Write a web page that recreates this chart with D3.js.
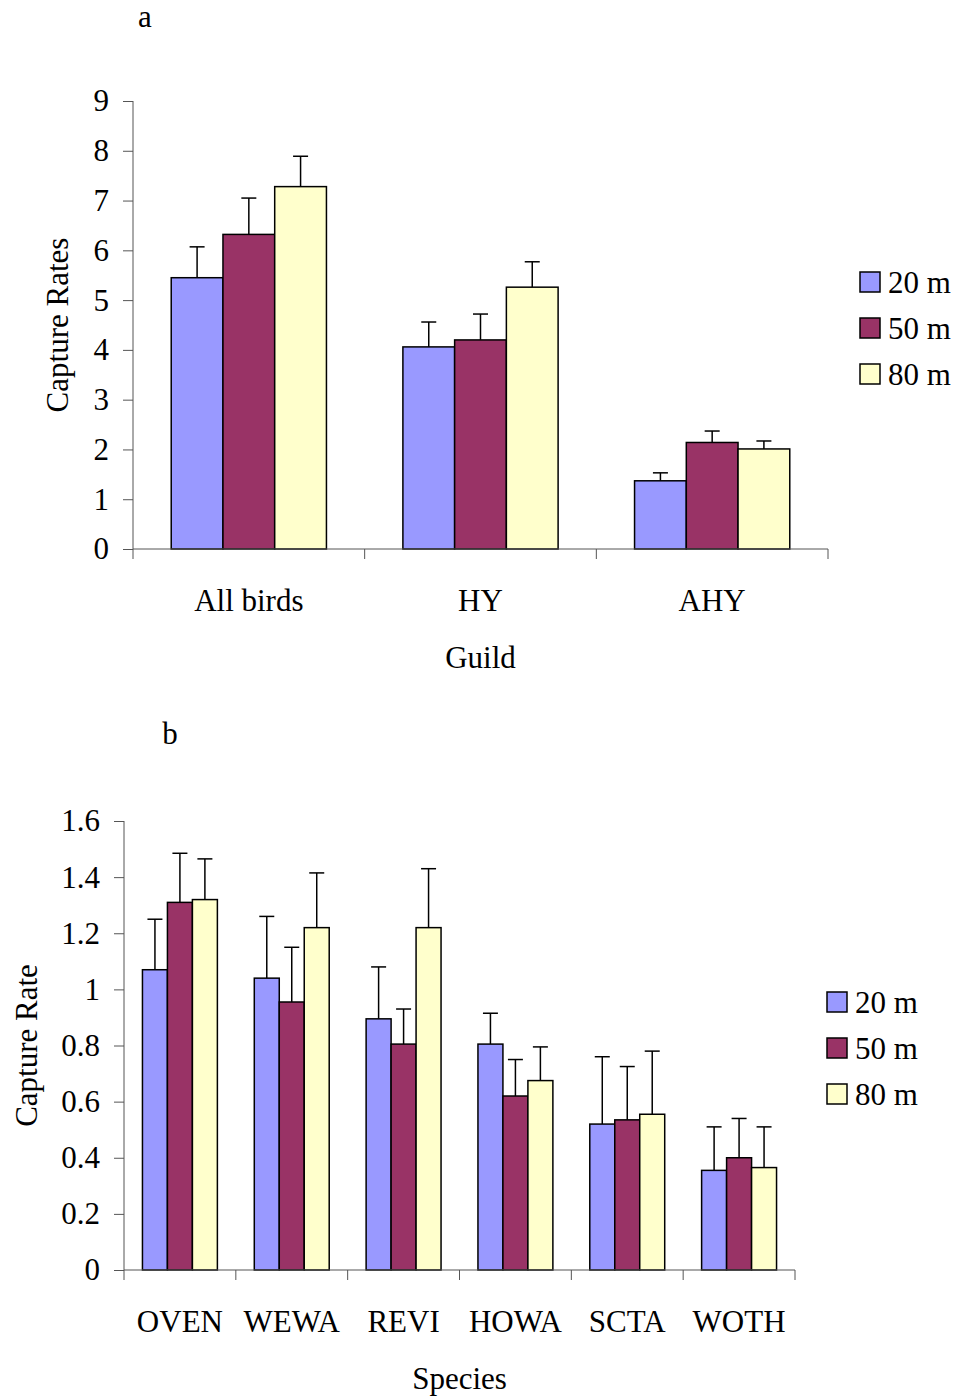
<!DOCTYPE html>
<html>
<head>
<meta charset="utf-8">
<script src="https://cdn.jsdelivr.net/npm/d3@7"></script>
<style>
  body { margin: 0; background: #fff; }
  svg text { font-family: 'Liberation Serif', 'Times New Roman', serif; fill: #000; }
</style>
</head>
<body>
<svg id="chart" width="959" height="1399"></svg>
<script>
const seriesNames = ['20 m', '50 m', '80 m']
const seriesColors = ['#9999FF', '#993366', '#FFFFCC']

// panel a: capture rates by guild
const guilds = ['All birds', 'HY', 'AHY']
const guildMeans = [
  [5.45, 6.32, 7.28],
  [4.06, 4.20, 5.26],
  [1.37, 2.14, 2.01]
]
const guildSE = [
  [0.62, 0.73, 0.61],
  [0.50, 0.52, 0.51],
  [0.16, 0.23, 0.16]
]
const guildTicks = [0, 1, 2, 3, 4, 5, 6, 7, 8, 9]

// panel b: capture rates by species
const species = ['OVEN', 'WEWA', 'REVI', 'HOWA', 'SCTA', 'WOTH']
const speciesMeans = [
  [1.07, 1.31, 1.32],
  [1.04, 0.955, 1.22],
  [0.895, 0.805, 1.22],
  [0.805, 0.62, 0.675],
  [0.52, 0.535, 0.555],
  [0.355, 0.40, 0.365]
]
const speciesSE = [
  [0.18, 0.175, 0.145],
  [0.22, 0.195, 0.195],
  [0.185, 0.125, 0.21],
  [0.11, 0.13, 0.12],
  [0.24, 0.19, 0.225],
  [0.155, 0.14, 0.145]
]
const speciesTicks = [0, 0.2, 0.4, 0.6, 0.8, 1, 1.2, 1.4, 1.6]

const fontSize = 31
const axisColor = '#555'
const svg = d3.select('#chart')

function drawPanel (opt) {
  const g = svg.append('g')
  const pad = 0.33

  const x0 = d3.scaleBand()
    .domain(opt.cats)
    .range([opt.left, opt.right])
    .paddingInner(pad)
    .paddingOuter(pad / 2)
  const x1 = d3.scaleBand()
    .domain(d3.range(seriesNames.length))
    .range([0, x0.bandwidth()])
  const y = d3.scaleLinear().domain(opt.domain).range([opt.bottom, opt.top])

  const rows = opt.cats.map((c, i) => ({ cat: c, means: opt.means[i], se: opt.se[i] }))

  const group = g.selectAll('.grp')
    .data(rows)
    .enter()
    .append('g')
    .attr('class', 'grp')
    .attr('transform', d => 'translate(' + x0(d.cat) + ',0)')

  const cells = group.selectAll('.cell')
    .data(d => d.means.map((m, k) => ({ k, m, se: d.se[k] })))
    .enter()
    .append('g')
    .attr('class', 'cell')

  // error bars (upper only), drawn under the bars
  cells.append('line')
    .attr('x1', d => x1(d.k) + x1.bandwidth() / 2)
    .attr('x2', d => x1(d.k) + x1.bandwidth() / 2)
    .attr('y1', d => y(d.m))
    .attr('y2', d => y(d.m + d.se))
    .attr('stroke', '#000')
    .attr('stroke-width', 1.5)
  cells.append('line')
    .attr('x1', d => x1(d.k) + x1.bandwidth() / 2 - 7.5)
    .attr('x2', d => x1(d.k) + x1.bandwidth() / 2 + 7.5)
    .attr('y1', d => y(d.m + d.se))
    .attr('y2', d => y(d.m + d.se))
    .attr('stroke', '#000')
    .attr('stroke-width', 1.5)

  cells.append('rect')
    .attr('x', d => x1(d.k))
    .attr('y', d => y(d.m))
    .attr('width', x1.bandwidth())
    .attr('height', d => y(0) - y(d.m))
    .attr('fill', d => seriesColors[d.k])
    .attr('stroke', '#000')
    .attr('stroke-width', 1.5)

  // y axis
  const yAxis = d3.axisLeft(y)
    .tickValues(opt.ticks)
    .tickSize(10)
    .tickPadding(14)
    .tickFormat(d => String(d))
  const ya = g.append('g')
    .attr('transform', 'translate(' + opt.left + ',0)')
    .call(yAxis)
  ya.selectAll('text').style('font-size', fontSize + 'px').attr('fill', '#000')
  ya.selectAll('line, path').attr('stroke', axisColor)
  ya.select('.domain').attr('d', 'M0,' + opt.bottom + 'V' + opt.top)

  // x axis with ticks between categories
  const step = x0.step()
  const xa = g.append('g')
  xa.append('line')
    .attr('x1', opt.left).attr('x2', opt.right)
    .attr('y1', opt.bottom).attr('y2', opt.bottom)
    .attr('stroke', axisColor)
  xa.selectAll('.xtick')
    .data(d3.range(opt.cats.length + 1))
    .enter()
    .append('line')
    .attr('class', 'xtick')
    .attr('x1', i => opt.left + i * step)
    .attr('x2', i => opt.left + i * step)
    .attr('y1', opt.bottom)
    .attr('y2', opt.bottom + 10)
    .attr('stroke', axisColor)
  xa.selectAll('.xlabel')
    .data(opt.cats)
    .enter()
    .append('text')
    .attr('class', 'xlabel')
    .attr('x', d => x0(d) + x0.bandwidth() / 2)
    .attr('y', opt.bottom + 62)
    .attr('text-anchor', 'middle')
    .style('font-size', fontSize + 'px')
    .text(d => d)

  // titles
  g.append('text')
    .attr('x', (opt.left + opt.right) / 2)
    .attr('y', opt.bottom + 119)
    .attr('text-anchor', 'middle')
    .style('font-size', fontSize + 'px')
    .text(opt.xTitle)
  g.append('text')
    .attr('transform', 'translate(' + opt.yTitleX + ',' + (opt.top + opt.bottom) / 2 + ') rotate(-90)')
    .attr('text-anchor', 'middle')
    .style('font-size', fontSize + 'px')
    .text(opt.yTitle)
  g.append('text')
    .attr('x', opt.labelX)
    .attr('y', opt.labelY)
    .attr('text-anchor', 'middle')
    .style('font-size', fontSize + 'px')
    .text(opt.label)

  // legend
  const leg = g.selectAll('.leg')
    .data(seriesNames)
    .enter()
    .append('g')
    .attr('class', 'leg')
    .attr('transform', (d, i) => 'translate(' + opt.legendX + ',' + (opt.legendY + i * 46) + ')')
  leg.append('rect')
    .attr('x', 0).attr('y', -10)
    .attr('width', 20).attr('height', 20)
    .attr('fill', (d, i) => seriesColors[i])
    .attr('stroke', '#000')
    .attr('stroke-width', 1.5)
  leg.append('text')
    .attr('x', 28)
    .attr('y', 11)
    .style('font-size', fontSize + 'px')
    .text(d => d)
}

drawPanel({
  cats: guilds, means: guildMeans, se: guildSE, ticks: guildTicks,
  domain: [0, 9], left: 133, right: 828, top: 101, bottom: 549,
  xTitle: 'Guild', yTitle: 'Capture Rates', yTitleX: 68,
  label: 'a', labelX: 145, labelY: 27,
  legendX: 860, legendY: 282
})

drawPanel({
  cats: species, means: speciesMeans, se: speciesSE, ticks: speciesTicks,
  domain: [0, 1.6], left: 124, right: 795, top: 821, bottom: 1270,
  xTitle: 'Species', yTitle: 'Capture Rate', yTitleX: 37,
  label: 'b', labelX: 170, labelY: 744,
  legendX: 827, legendY: 1002
})
</script>
</body>
</html>
